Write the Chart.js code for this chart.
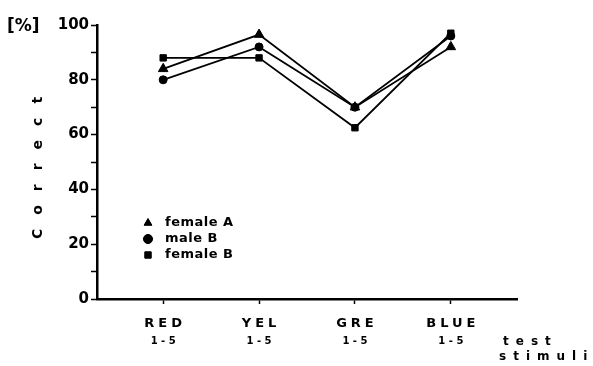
<!DOCTYPE html>
<html>
<head>
<meta charset="utf-8">
<script src="https://cdn.jsdelivr.net/npm/chart.js@4/dist/chart.umd.min.js"></script>
<style>
  html, body { margin: 0; padding: 0; background: #fff; }
  #wrap { width: 593px; height: 366px; }
</style>
</head>
<body>
<div id="wrap"><canvas id="chart" width="593" height="366"></canvas></div>
<script>
// données
const categories = ['RED', 'YEL', 'GRE', 'BLUE'];
const subLabels = ['1 - 5', '1 - 5', '1 - 5', '1 - 5'];
const femaleA = [84, 96.5, 70, 92];
const maleB = [80, 92, 70, 96];
const femaleB = [88, 88, 62.5, 97];
const yTicks = [0, 10, 20, 30, 40, 50, 60, 70, 80, 90, 100];
const seriesNames = ['female A', 'male B', 'female B'];
const seriesMarkers = ['triangle', 'circle', 'rect'];

const FONT = '"DejaVu Sans", sans-serif';

function toPoints(values) {
    return values.map((v, i) => ({ x: i, y: v }));
}

function makeDataset(name, values, marker, radius) {
    return {
        label: name,
        data: toPoints(values),
        borderColor: '#000',
        backgroundColor: '#000',
        borderWidth: 1.8,
        pointStyle: marker,
        pointRadius: radius,
        pointBorderWidth: 1,
        tension: 0,
        fill: false
    };
}

// textes en plus : légende, [%], titre vertical, test stimuli, étiquettes x
const extraText = {
    id: 'extraText',
    afterDraw(chart) {
        const ctx = chart.ctx;
        const xs = chart.scales.x;
        ctx.save();
        ctx.fillStyle = '#000';
        ctx.textBaseline = 'middle';

        // étiquettes des catégories
        ctx.textAlign = 'center';
        categories.forEach((c, i) => {
            const px = xs.getPixelForValue(i);
            ctx.font = 'bold 13px ' + FONT;
            ctx.letterSpacing = '4px';
            ctx.fillText(c, px + 2, 324);
            ctx.font = 'bold 10px ' + FONT;
            ctx.letterSpacing = '0px';
            ctx.fillText(subLabels[i], px, 341);
        });

        // [%]
        ctx.textAlign = 'left';
        ctx.font = 'bold 17px ' + FONT;
        ctx.letterSpacing = '0px';
        ctx.fillText('[%]', 7, 27);

        // titre vertical
        ctx.save();
        ctx.translate(38, 168);
        ctx.rotate(-Math.PI / 2);
        ctx.textAlign = 'center';
        ctx.font = 'bold 14px ' + FONT;
        ctx.letterSpacing = '14px';
        ctx.fillText('Correct', 7, 0);
        ctx.restore();

        // test stimuli
        ctx.textAlign = 'left';
        ctx.font = 'bold 12px ' + FONT;
        ctx.letterSpacing = '7px';
        ctx.fillText('test', 503, 342);
        ctx.fillText('stimuli', 499, 357);

        // légende
        ctx.letterSpacing = '0.5px';
        ctx.font = 'bold 13px ' + FONT;
        seriesNames.forEach((name, i) => {
            const y = 223 + i * 16;
            Chart.helpers.drawPoint(ctx, { pointStyle: seriesMarkers[i], radius: 4.5, borderWidth: 1 }, 148, y);
            ctx.fill();
            ctx.fillText(name, 165, y);
        });
        ctx.restore();
    }
};

new Chart(document.getElementById('chart'), {
    type: 'line',
    data: {
        datasets: [
            makeDataset(seriesNames[0], femaleA, 'triangle', 5.5),
            makeDataset(seriesNames[1], maleB, 'circle', 4),
            makeDataset(seriesNames[2], femaleB, 'rect', 4.5)
        ]
    },
    options: {
        responsive: false,
        animation: false,
        layout: { padding: { left: 0, right: 76, top: 25, bottom: 0 } },
        plugins: {
            legend: { display: false },
            tooltip: { enabled: false }
        },
        scales: {
            x: {
                type: 'linear',
                min: -0.69,
                max: 3.69,
                afterBuildTicks(scale) {
                    scale.ticks = categories.map((c, i) => ({ value: i }));
                },
                afterFit(scale) { scale.height = 67; },
                ticks: { display: false },
                grid: {
                    drawOnChartArea: false,
                    drawTicks: true,
                    tickLength: 5,
                    tickWidth: 1.5,
                    color: '#000'
                },
                border: { color: '#000', width: 2.5 }
            },
            y: {
                min: 0,
                max: 100,
                afterBuildTicks(scale) {
                    scale.ticks = yTicks.map(v => ({ value: v }));
                },
                afterFit(scale) { scale.width = 97; },
                ticks: {
                    color: '#000',
                    padding: 2,
                    font: { family: FONT, size: 15, weight: 'bold' },
                    callback: v => (v % 20 === 0 ? String(v) : '')
                },
                grid: {
                    drawOnChartArea: false,
                    drawTicks: true,
                    tickLength: 6,
                    tickWidth: 1.5,
                    color: '#000'
                },
                border: { color: '#000', width: 2.5 }
            }
        }
    },
    plugins: [extraText]
});
</script>
</body>
</html>
